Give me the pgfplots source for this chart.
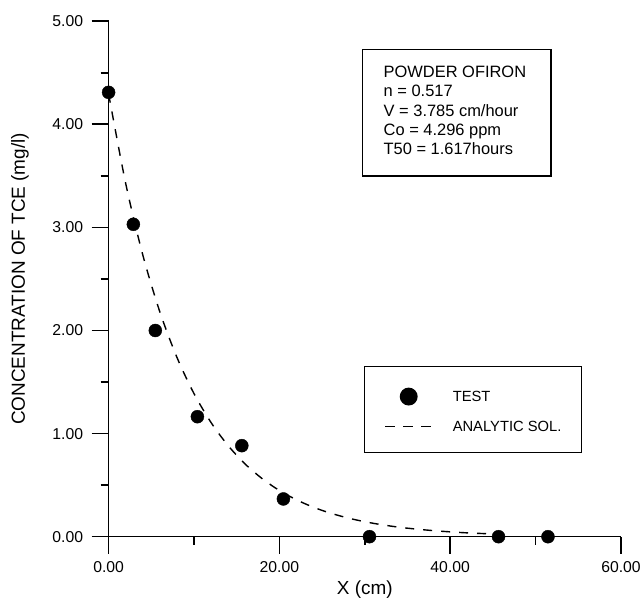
\documentclass[border=0pt]{standalone}
\usepackage{pgfplots}
\pgfplotsset{compat=1.18}
\usepackage{fontspec}
\setmainfont{Liberation Sans}
\begin{document}
\begin{tikzpicture}
\begin{axis}[
  scale only axis,
  width=512.4bp, height=515.5bp,
  xmin=0, xmax=60, ymin=0, ymax=5,
  axis x line*=bottom, axis y line*=left,
  axis line style={line width=1.6bp, black},
  xtick={0,20,40,60}, minor xtick={10,30,50},
  ytick={0,1,2,3,4,5}, minor ytick={0.5,1.5,2.5,3.5,4.5},
  tick align=outside, xtick align=outside, ytick align=outside,
  major tick length=17bp, minor tick length=8bp,
  tick style={line width=1.6bp, black},
  minor tick style={line width=1.6bp, black},
  /pgf/number format/assume math mode=true,
  /pgf/number format/.cd, fixed, fixed zerofill, precision=2, /pgfplots/.cd,
  tick label style={font=\fontsize{15.8}{18}\selectfont},
  xticklabel style={yshift=-4bp},
  yticklabel style={xshift=-5bp},
  xlabel={X (cm)}, ylabel={CONCENTRATION OF TCE (mg/l)},
  label style={font=\fontsize{19}{22}\selectfont},
  xlabel style={at={(axis description cs:0.5,-0.1034)}, anchor=center},
  ylabel style={at={(axis description cs:-0.1729,0.5)}, anchor=center},
  clip=false,
  reverse legend,
  legend style={at={(axis cs:29.92,1.656)}, anchor=north west, draw=black,
    line width=1.3bp, fill=white, inner xsep=20bp, inner ysep=21bp,
    font=\fontsize{14.8}{17}\selectfont,
    nodes={inner sep=0pt, text depth=0pt},
    row sep=15.7bp, column sep=20bp},
  legend cell align=left,
]
\addplot[black, line width=1.4bp, dash pattern=on 9bp off 9bp, smooth,
  legend image code/.code={\draw[line width=1.3bp, dash pattern=on 10bp off 8bp] (0bp,0bp) -- (46.7bp,0bp);}]
 coordinates {
 (0,4.296) (2,3.427) (4,2.734) (6,2.181) (8,1.740) (10,1.388) (12,1.107)
 (14,0.883) (16,0.704) (18,0.562) (20,0.448) (22,0.358) (24,0.285)
 (26,0.228) (28,0.182) (30,0.145) (32,0.116) (34,0.092) (36,0.074)
 (38,0.059) (40,0.047) (42,0.037) (44,0.030) (46,0.024) (47,0.021)
 };
\addlegendentry{ANALYTIC SOL.}
\addplot[only marks, mark=*, mark size=6.5bp, black,
  legend image code/.code={\path[draw=none,fill=none] (0bp,0bp) -- (46.7bp,0bp); \fill[black] (23.3bp,0bp) circle (8.3bp);}]
 coordinates {
 (0,4.31) (2.9,3.03) (5.47,2.00) (10.4,1.164) (15.6,0.883) (20.47,0.366)
 (30.55,0) (45.66,0) (51.45,0)
 };
\addlegendentry{TEST}
\draw[line width=1.3bp] (axis cs:29.77,4.727) rectangle (axis cs:51.80,3.498);
\begin{scope}[every node/.style={anchor=base west, inner sep=0pt, font=\fontsize{16.5}{19}\selectfont}]
\node at (axis cs:32.19,4.454) {POWDER OFIRON};
\node at (axis cs:32.19,4.267) {n = 0.517};
\node at (axis cs:32.19,4.080) {V = 3.785 cm/hour};
\node at (axis cs:32.19,3.893) {Co = 4.296 ppm};
\node at (axis cs:32.19,3.705) {T50 = 1.617hours};
\end{scope}
\end{axis}
\path (current axis.south west) ++(-108.6bp,-63.3bp) rectangle ([xshift=23bp,yshift=21.2bp]current axis.north east);
\end{tikzpicture}
\end{document}
